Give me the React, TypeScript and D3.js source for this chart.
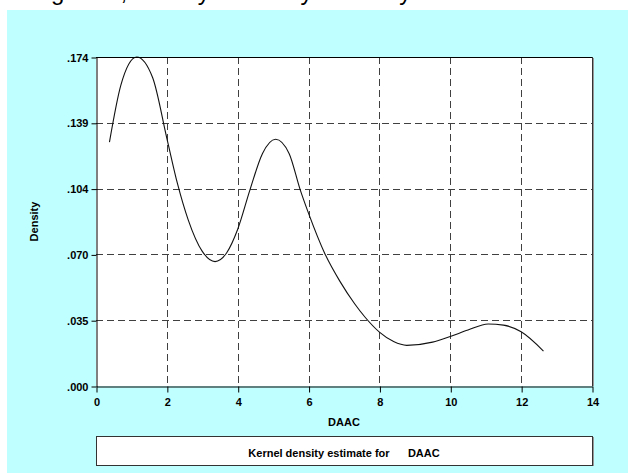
import * as d3 from 'd3'
import { useEffect, useRef } from 'react'

// kernel density estimate
const daacX = [0.38, 0.7, 1.15, 1.6, 2.0, 2.3, 2.6, 3.0, 3.36, 3.69, 4.0, 4.35, 4.7, 5.07, 5.45, 5.76, 6.0, 6.46, 6.89, 7.3, 7.59, 8.0, 8.4, 8.77, 9.5, 10.0, 10.5, 11.07, 11.5, 12.0, 12.63]
const densityY = [0.129, 0.159, 0.174, 0.163, 0.131, 0.107, 0.088, 0.0712, 0.0658, 0.0705, 0.0829, 0.104, 0.123, 0.1305, 0.123, 0.104, 0.0913, 0.07, 0.0552, 0.0435, 0.0365, 0.0285, 0.0235, 0.0215, 0.0232, 0.0262, 0.0296, 0.0328, 0.0322, 0.0287, 0.0185]

const yMax = 0.174
const yTicks = d3.range(6).map((i) => (yMax * i) / 5)
const yMinor = d3.range(26).map((i) => (yMax * i) / 25)
const xTicks = [0, 2, 4, 6, 8, 10, 12, 14]
const xMinor = d3.range(15)
const xGrid = [2, 4, 6, 8, 10, 12]

const W = 628
const H = 473
const left = 96
const right = 592
const top = 57
const bottom = 386
const font = 'Arial, "Liberation Sans", sans-serif'

const App = () => {
  const svgRef = useRef<SVGSVGElement>(null)

  useEffect(() => {
    const svg = d3.select(svgRef.current)
    svg.selectAll('*').remove()

    const x = d3.scaleLinear().domain([0, 14]).range([left, right])
    const y = d3.scaleLinear().domain([0, yMax]).range([bottom, top])

    // background
    svg.append('rect').attr('width', W).attr('height', H).attr('fill', '#fff')
    svg.append('rect').attr('x', 7).attr('y', 10).attr('width', W - 7).attr('height', H - 10).attr('fill', '#c0ffff')

    // title, mostly above the top edge in the reference
    svg
      .append('text')
      .attr('x', 11)
      .attr('y', 0)
      .style('font-family', font)
      .style('font-size', '24px')
      .attr('fill', '#000')
      .text('Long-term, density in history for study')

    // plot area
    svg.append('rect').attr('x', left).attr('y', top).attr('width', right - left).attr('height', bottom - top).attr('fill', '#fff')

    // grid
    const grid = svg.append('g').attr('stroke', '#404040').attr('stroke-width', 1).attr('stroke-dasharray', '7,4')
    grid
      .selectAll('line.v')
      .data(xGrid)
      .join('line')
      .attr('x1', (d) => Math.round(x(d)) + 0.5)
      .attr('x2', (d) => Math.round(x(d)) + 0.5)
      .attr('y1', top)
      .attr('y2', bottom)
    grid
      .selectAll('line.h')
      .data(yTicks.slice(1, 5))
      .join('line')
      .attr('x1', left)
      .attr('x2', right)
      .attr('y1', (d) => Math.round(y(d)) + 0.5)
      .attr('y2', (d) => Math.round(y(d)) + 0.5)

    // density curve
    const pts: [number, number][] = daacX.map((d, i) => [d, densityY[i]])
    const line = d3
      .line<[number, number]>()
      .x((d) => x(d[0]))
      .y((d) => y(d[1]))
      .curve(d3.curveMonotoneX)
    svg.append('path').datum(pts).attr('d', line).attr('fill', 'none').attr('stroke', '#111').attr('stroke-width', 1.1)

    // frame
    svg.append('line').attr('x1', left).attr('x2', right).attr('y1', top + 0.5).attr('y2', top + 0.5).attr('stroke', '#000')
    svg.append('line').attr('x1', right + 0.5).attr('x2', right + 0.5).attr('y1', top).attr('y2', bottom).attr('stroke', '#333')
    svg.append('line').attr('x1', right + 1.5).attr('x2', right + 1.5).attr('y1', top + 1).attr('y2', bottom).attr('stroke', '#999')

    // y axis
    const yAxisG = svg.append('g').attr('transform', `translate(${left + 0.5},0.5)`)
    yAxisG.call(d3.axisLeft(y).tickValues(yMinor).tickSize(3).tickFormat(() => '').tickSizeOuter(0))
    yAxisG.call(
      d3
        .axisLeft(y)
        .tickValues(yTicks)
        .tickSize(5)
        .tickPadding(3)
        .tickSizeOuter(0)
        .tickFormat((d) => d3.format('.3f')(d as number).replace(/^0/, ''))
    )

    // x axis
    const xAxisG = svg.append('g').attr('transform', `translate(0.5,${bottom + 0.5})`)
    xAxisG.call(d3.axisBottom(x).tickValues(xMinor).tickSize(3).tickFormat(() => '').tickSizeOuter(0))
    xAxisG.call(d3.axisBottom(x).tickValues(xTicks).tickSize(6).tickPadding(6).tickSizeOuter(0))

    svg
      .selectAll('.tick text')
      .style('font-family', font)
      .style('font-size', '11px')
      .style('font-weight', 'bold')
      .attr('fill', '#000')
    svg.selectAll('.domain, .tick line').attr('stroke', '#000')

    // axis titles
    svg
      .append('text')
      .attr('transform', `translate(38,${(top + bottom) / 2}) rotate(-90)`)
      .attr('text-anchor', 'middle')
      .style('font-family', font)
      .style('font-size', '11px')
      .style('font-weight', 'bold')
      .text('Density')
    svg
      .append('text')
      .attr('x', (left + right) / 2)
      .attr('y', 425.5)
      .attr('text-anchor', 'middle')
      .style('font-family', font)
      .style('font-size', '11px')
      .style('font-weight', 'bold')
      .text('DAAC')

    // caption box
    svg.append('rect').attr('x', left + 0.5).attr('y', 436.5).attr('width', right - left).attr('height', 29).attr('fill', '#fff').attr('stroke', '#333')
    svg.append('line').attr('x1', right + 1.5).attr('x2', right + 1.5).attr('y1', 437).attr('y2', 466).attr('stroke', '#999')
    svg
      .append('text')
      .attr('x', (left + right) / 2)
      .attr('y', 456.5)
      .attr('text-anchor', 'middle')
      .style('font-family', font)
      .style('font-size', '11px')
      .style('font-weight', 'bold')
      .style('white-space', 'pre')
      .text('Kernel density estimate for      DAAC')
  }, [])

  return (
    <div style={{ position: 'absolute', left: 0, top: 0 }}>
      <svg ref={svgRef} width={W} height={H} style={{ display: 'block' }}></svg>
    </div>
  )
}

export default App
